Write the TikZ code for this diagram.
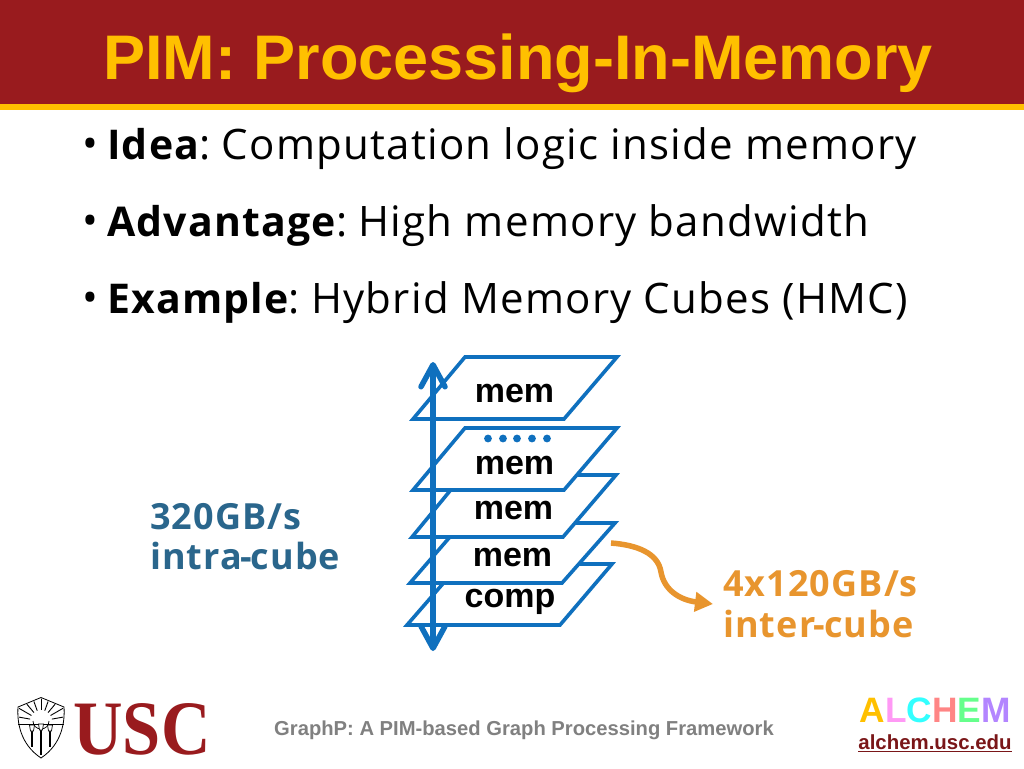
\documentclass[tikz,border=0pt]{standalone}
\usepackage{fontspec}
\setmainfont{Open Sans}[LetterSpace=3]
\newfontfamily\arialfont{Liberation Sans}
\newfontfamily\timesfont{Liberation Serif}
\usetikzlibrary{arrows.meta}
\definecolor{uscred}{HTML}{991B1E}
\definecolor{uscgold}{HTML}{FFC000}
\definecolor{stackblue}{HTML}{0F70BE}
\definecolor{intrablue}{HTML}{2A668C}
\definecolor{interorange}{HTML}{E8952E}
\newcommand{\leadword}[1]{{\bfseries\fontsize{41}{41}\selectfont #1}:\kern-1pt\ }
\tikzset{
  layer/.style={draw=stackblue,line width=3.6pt,fill=white,line join=miter},
  memtext/.style={font=\arialfont\bfseries\fontsize{34}{34}\selectfont,text=black,inner sep=0pt},
  bodytext/.style={anchor=base west,inner sep=0pt,font=\fontsize{42}{42}\selectfont},
  ratetext/.style={anchor=base west,inner sep=0pt,font=\bfseries\fontsize{36}{36}\selectfont},
}
\begin{document}
\begin{tikzpicture}[x=1pt,y=-1pt]
  \useasboundingbox (0,0) rectangle (1024,768);
  \fill[white](0,0) rectangle (1024,768);
  % banner
  \fill[uscred](0,0) rectangle (1024,104);
  \fill[uscgold](0,104) rectangle (1024,110);
  \node[inner sep=0pt,text=uscgold,font=\arialfont\bfseries\fontsize{63}{63}\selectfont] (title) at (518,63) {PIM: Processing-In-Memory};
  % bullets
  \node[bodytext] (bulleta) at (82,158) {•};
  \node[bodytext] (bulletb) at (82,235) {•};
  \node[bodytext] (bulletc) at (82,312) {•};
  \node[bodytext] (idea) at (107,159) {\leadword{Idea}Computation logic inside memory};
  \node[bodytext] (advantage) at (107,236) {\leadword{Advantage}High memory bandwidth};
  \node[bodytext] (example) at (107,313) {\leadword{Example}Hybrid Memory Cubes (HMC)};
  % stack, bottom first
  \draw[layer](460,564)--(612,564)--(560,625)--(407,625)--cycle;
  \draw[layer](462,523)--(615,523)--(562,583)--(410,583)--cycle;
  \draw[layer](463,475)--(616,475)--(563,537)--(412,537)--cycle;
  \draw[layer](465,428)--(617,428)--(564,490)--(413,490)--cycle;
  \draw[layer](465,357)--(617,357)--(564,419)--(413,419)--cycle;
  \node[memtext] (memd) at (514.5,394) {mem};
  \node[memtext] (memc) at (514.5,466) {mem};
  \node[memtext] (memb) at (513.5,511) {mem};
  \node[memtext] (mema) at (512.5,558) {mem};
  \node[memtext] (comp) at (510,602) {comp};
  \foreach \x in {488,503,517,532,547}
    \fill[stackblue](\x,438.5) circle (3.9);
  % arrows
  \coordinate (axistop) at (433,362);
  \coordinate (axisbot) at (433,651);
  \draw[stackblue,line width=5.5pt,{Straight Barb[length=22pt,width=24pt,line width=5.5pt,round]}-{Straight Barb[length=22pt,width=24pt,line width=5.5pt,round]}] (axistop)--(axisbot);
  \coordinate (linkfrom) at (611,543);
  \coordinate (linkmid) at (661,572);
  \coordinate (linkto) at (713,604);
  \draw[interorange,line width=5.5pt,-{Triangle[length=18pt,width=19pt]}] (linkfrom) .. controls (637,545) and (658,553) .. (linkmid) .. controls (664,590) and (680,600) .. (linkto);
  % rates
  \node[ratetext,text=intrablue] (intraa) at (150,529) {320GB/s};
  \node[ratetext,text=intrablue] (intrab) at (150,569) {intra\kern-1.5pt-\kern-1.5pt cube};
  \node[ratetext,text=interorange] (intera) at (723,596) {4x120GB/s};
  \node[ratetext,text=interorange] (interb) at (723,637) {inter\kern-1.5pt-\kern-1.5pt cube};
  % footer
  \node[inner sep=0pt,text=black!50,font=\arialfont\bfseries\fontsize{20.2}{20}\selectfont] (footer) at (524,730) {GraphP: A PIM-based Graph Processing Framework};
  \node[inner sep=0pt,font=\arialfont\bfseries\fontsize{35.3}{36}\selectfont] (alchem) at (935,710) {\textcolor{uscgold}{A}\textcolor[HTML]{FF99F5}{L}\textcolor[HTML]{33FFFF}{C}\textcolor[HTML]{FF8585}{H}\textcolor[HTML]{66FF8C}{E}\textcolor[HTML]{B385FF}{M}};
  \node[inner sep=0pt,text=uscred!80!black,font=\arialfont\bfseries\fontsize{20.4}{20}\selectfont] (site) at (935,743) {\underline{alchem.usc.edu}};
  % logo
  \node[inner sep=0pt,text=uscred,font=\timesfont\bfseries\fontsize{77}{77}\selectfont] (usc) at (142,729) {\scalebox{0.89}[1]{USC}};
  \draw[black,line width=0.8pt,fill=white](41,697.5)--(18,707) .. controls (17,722) and (20,744) .. (41,758) .. controls (62,744) and (65,722) .. (64,707)--cycle;
  \begin{scope}
    \clip(41,698.5)--(19,707.5)--(19,723)--(63,723)--(63,707.5)--cycle;
    \foreach \a in {10,30,50,70,90,110,130,150,170}
      \draw[black,line width=0.9pt](41,721)++(-\a:11)--++(-\a:26);
  \end{scope}
  \draw[black,line width=0.7pt](33,721) arc (180:0:8);
  \draw[black,line width=0.7pt](18,724)--(64,724);
  \foreach \x/\t/\b in {32/725/747,41/724/755,50/725/747} {
    \draw[black,line width=1.6pt](\x,\t+6)--(\x,\b);
    \draw[black,line width=0.7pt,fill=white](\x-2.5,\t)--(\x+2.5,\t)--(\x+1.5,\t+6)--(\x-1.5,\t+6)--cycle;
  }
\end{tikzpicture}
\end{document}
